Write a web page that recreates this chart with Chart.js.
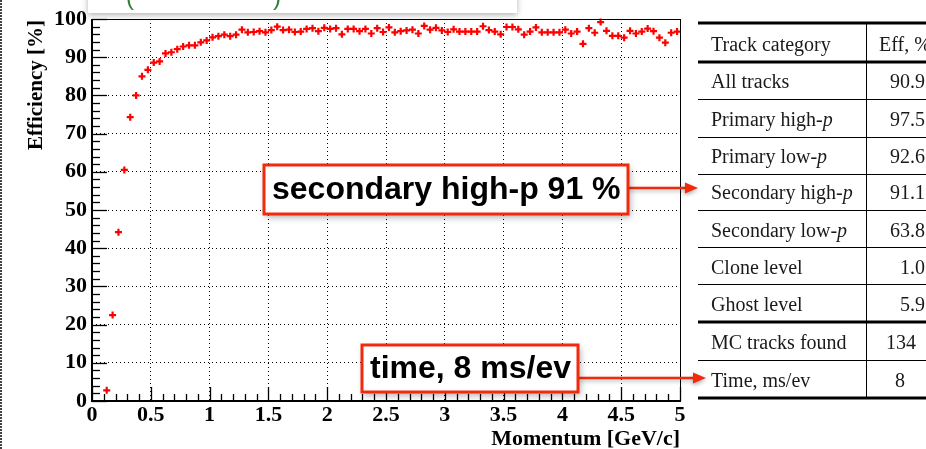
<!DOCTYPE html>
<html>
<head>
<meta charset="utf-8">
<script src="https://cdn.jsdelivr.net/npm/chart.js@4"></script>
<style>
  html, body { margin: 0; padding: 0; background: #fff; overflow: hidden; }
</style>
</head>
<body>
<canvas id="eff" width="926" height="449"></canvas>
<script>
// momentum bin centres [GeV/c]
const momentum = [
  0.125, 0.175, 0.225, 0.275, 0.325, 0.375, 0.425, 0.475, 0.525, 0.575,
  0.625, 0.675, 0.725, 0.775, 0.825, 0.875, 0.925, 0.975,
  1.025, 1.075, 1.125, 1.175, 1.225, 1.275, 1.325, 1.375, 1.425, 1.475,
  1.525, 1.575, 1.625, 1.675, 1.725, 1.775, 1.825, 1.875, 1.925, 1.975,
  2.025, 2.075, 2.125, 2.175, 2.225, 2.275, 2.325, 2.375, 2.425, 2.475,
  2.525, 2.575, 2.625, 2.675, 2.725, 2.775, 2.825, 2.875, 2.925, 2.975,
  3.025, 3.075, 3.125, 3.175, 3.225, 3.275, 3.325, 3.375, 3.425, 3.475,
  3.525, 3.575, 3.625, 3.675, 3.725, 3.775, 3.825, 3.875, 3.925, 3.975,
  4.025, 4.075, 4.125, 4.175, 4.225, 4.275, 4.325, 4.375, 4.425, 4.475,
  4.525, 4.575, 4.625, 4.675, 4.725, 4.775, 4.825, 4.875, 4.925, 4.975
];
// reconstruction efficiency [%]
const efficiency = [
  2.8, 22.5, 44.2, 60.5, 74.3, 80.0, 85.0, 86.7, 88.6, 88.9,
  91.0, 91.3, 92.1, 92.8, 93.1, 93.1, 93.9, 94.4,
  95.2, 95.5, 95.9, 95.5, 95.9, 97.2, 96.5, 96.6, 96.8, 96.5,
  97.1, 98.0, 97.1, 97.2, 96.6, 96.7, 97.4, 97.6, 96.8, 97.7,
  97.4, 97.6, 96.0, 97.4, 97.4, 96.8, 97.4, 96.2, 97.6, 96.6,
  97.8, 96.5, 96.8, 97.0, 97.2, 96.2, 98.2, 97.2, 97.7, 97.0,
  96.6, 97.3, 96.7, 96.7, 96.7, 96.7, 98.1, 97.1, 96.7, 96.0,
  97.9, 97.9, 97.3, 95.9, 96.7, 97.8, 96.5, 96.5, 96.5, 96.5,
  97.2, 96.2, 96.7, 93.5, 97.6, 96.4, 99.2, 96.9, 95.6, 95.6,
  95.1, 96.9, 96.2, 96.7, 97.5, 96.8, 95.1, 93.8, 96.4, 96.7
];

// summary table
const trackCategories = [
  'All tracks', 'Primary high-p', 'Primary low-p', 'Secondary high-p',
  'Secondary low-p', 'Clone level', 'Ghost level'
];
const trackEff = ['90.9', '97.5', '92.6', '91.1', '63.8', '1.0', '5.9'];
const mcTracksFound = '134';
const timePerEvent = '8';

const serifBold = '"Liberation Serif", "Times New Roman", serif';
const RED = '#f22a0c';

// ROOT-style frame with inner tick marks
const framePlugin = {
  id: 'frame',
  afterDatasetsDraw(chart) {
    const { ctx, chartArea: a, scales } = chart;
    ctx.save();
    ctx.strokeStyle = '#000';
    ctx.lineWidth = 1.3;
    for (let v = 0; v <= 100; v += 2) {
      const y = Math.round(scales.y.getPixelForValue(v)) + 0.5;
      const len = v % 10 === 0 ? 15 : 8;
      ctx.beginPath();
      ctx.moveTo(a.left, y);
      ctx.lineTo(a.left + len, y);
      ctx.stroke();
    }
    for (let i = 0; i <= 50; i++) {
      const x = Math.round(scales.x.getPixelForValue(i / 10)) + 0.5;
      const len = i % 5 === 0 ? 14 : 7;
      ctx.beginPath();
      ctx.moveTo(x, a.bottom);
      ctx.lineTo(x, a.bottom - len);
      ctx.stroke();
    }
    ctx.lineWidth = 1;
    ctx.strokeRect(a.left + 0.5, a.top + 0.5, a.right - a.left, a.bottom - a.top);
    ctx.lineWidth = 2;
    ctx.beginPath();
    ctx.moveTo(a.left, a.top);
    ctx.lineTo(a.left, a.bottom);
    ctx.lineTo(a.right, a.bottom);
    ctx.stroke();

    // axis titles
    ctx.fillStyle = '#000';
    ctx.font = 'bold 21px ' + serifBold;
    ctx.save();
    ctx.translate(37, a.top + 1);
    ctx.rotate(-Math.PI / 2);
    ctx.textAlign = 'right';
    ctx.textBaseline = 'middle';
    ctx.fillText('Efficiency [%]', 0, 0);
    ctx.restore();
    ctx.font = 'bold 22px ' + serifBold;
    ctx.textAlign = 'right';
    ctx.textBaseline = 'alphabetic';
    ctx.fillText('Momentum [GeV/c]', a.right, 445);
    ctx.restore();
  }
};

function arrow(ctx, x0, x1, y) {
  ctx.beginPath();
  ctx.moveTo(x0, y);
  ctx.lineTo(x1 - 9, y);
  ctx.stroke();
  ctx.beginPath();
  ctx.moveTo(x1, y);
  ctx.lineTo(x1 - 13, y - 5.5);
  ctx.lineTo(x1 - 13, y + 5.5);
  ctx.closePath();
  ctx.fill();
}

function labelBox(ctx, x, y, w, h, text) {
  ctx.save();
  ctx.shadowColor = 'rgba(0,0,0,0.35)';
  ctx.shadowBlur = 7;
  ctx.shadowOffsetX = 2;
  ctx.shadowOffsetY = 3;
  ctx.fillStyle = '#fff';
  ctx.fillRect(x, y, w, h);
  ctx.restore();
  ctx.strokeStyle = RED;
  ctx.lineWidth = 3;
  ctx.strokeRect(x, y, w, h);
  ctx.fillStyle = '#000';
  ctx.font = 'bold 32px "Liberation Sans", Arial, sans-serif';
  ctx.textAlign = 'left';
  ctx.textBaseline = 'middle';
  ctx.fillText(text, x + 8, y + h / 2 + 1);
}

function cellText(ctx, s, x, y) {
  // trailing "-p" set with an italic p
  const roman = '20px "Liberation Serif", serif';
  ctx.font = roman;
  if (s.endsWith('-p')) {
    const head = s.slice(0, -1);
    ctx.fillText(head, x, y);
    const w = ctx.measureText(head).width;
    ctx.font = 'italic ' + roman;
    ctx.fillText('p', x + w, y);
    ctx.font = roman;
  } else {
    ctx.fillText(s, x, y);
  }
}

const overlayPlugin = {
  id: 'overlay',
  afterDraw(chart) {
    const ctx = chart.ctx;
    ctx.save();

    // dotted page edge
    ctx.strokeStyle = '#444';
    ctx.lineWidth = 2;
    ctx.setLineDash([2, 1]);
    ctx.beginPath();
    ctx.moveTo(1, 0);
    ctx.lineTo(1, 449);
    ctx.stroke();
    ctx.setLineDash([]);

    // legend box running off the top
    ctx.save();
    ctx.shadowColor = 'rgba(0,0,0,0.3)';
    ctx.shadowBlur = 6;
    ctx.shadowOffsetY = 2;
    ctx.fillStyle = '#fff';
    ctx.fillRect(88, -10, 429, 23);
    ctx.restore();
    ctx.fillStyle = '#2f7d2f';
    ctx.font = '24px "Liberation Sans", Arial, sans-serif';
    ctx.textBaseline = 'alphabetic';
    ctx.textAlign = 'left';
    ctx.fillText('(', 126, 5);
    ctx.fillText(')', 273, 5);

    // arrows to the table
    ctx.save();
    ctx.shadowColor = 'rgba(0,0,0,0.3)';
    ctx.shadowBlur = 4;
    ctx.shadowOffsetY = 2;
    ctx.strokeStyle = RED;
    ctx.fillStyle = RED;
    ctx.lineWidth = 2.5;
    arrow(ctx, 628, 698, 188);
    arrow(ctx, 578, 706, 378);
    ctx.restore();

    labelBox(ctx, 264, 165, 364, 49, 'secondary high-p 91 %');
    labelBox(ctx, 362, 345, 216, 47, 'time, 8 ms/ev');

    // table
    const L = 698, R = 926, V = 866;
    const thick = [23, 62, 322, 398];
    const thin = [99, 137, 174, 210, 247, 284, 360];
    ctx.strokeStyle = '#000';
    ctx.lineWidth = 3;
    thick.forEach(y => { ctx.beginPath(); ctx.moveTo(L, y); ctx.lineTo(R, y); ctx.stroke(); });
    ctx.lineWidth = 1;
    thin.forEach(y => { ctx.beginPath(); ctx.moveTo(L, y + 0.5); ctx.lineTo(R, y + 0.5); ctx.stroke(); });
    ctx.beginPath();
    ctx.moveTo(V + 0.5, 23);
    ctx.lineTo(V + 0.5, 398);
    ctx.stroke();

    ctx.fillStyle = '#1a1a1a';
    ctx.textBaseline = 'middle';
    ctx.textAlign = 'left';
    cellText(ctx, 'Track category', 711, 46);
    cellText(ctx, 'Eff, %', 879, 46);
    const rowY = [83, 121, 158, 194, 232, 269, 306];
    trackCategories.forEach((c, i) => {
      ctx.textAlign = 'left';
      cellText(ctx, c, 711, rowY[i]);
      ctx.textAlign = 'right';
      ctx.fillText(trackEff[i], 925, rowY[i]);
    });
    ctx.textAlign = 'left';
    cellText(ctx, 'MC tracks found', 711, 344);
    cellText(ctx, 'Time, ms/ev', 711, 382);
    ctx.textAlign = 'center';
    ctx.fillText(mcTracksFound, 901, 344);
    ctx.fillText(timePerEvent, 900, 382);

    ctx.restore();
  }
};

const tickFont = { family: serifBold, weight: 'bold', size: 22 };

new Chart(document.getElementById('eff'), {
  type: 'scatter',
  data: {
    datasets: [{
      label: 'efficiency',
      data: momentum.map((p, i) => ({ x: p, y: efficiency[i] })),
      pointStyle: 'cross',
      pointRadius: 3.5,
      pointHoverRadius: 3.5,
      borderColor: '#ff0000',
      backgroundColor: '#ff0000',
      pointBorderWidth: 2.2,
      clip: false
    }]
  },
  options: {
    responsive: false,
    animation: false,
    devicePixelRatio: 1,
    layout: { padding: { left: 0, top: 19, right: 246, bottom: 0 } },
    plugins: { legend: { display: false }, tooltip: { enabled: false } },
    scales: {
      x: {
        type: 'linear',
        min: 0, max: 5,
        afterFit: s => { s.height = 48; },
        ticks: {
          stepSize: 0.5, color: '#000', font: tickFont, padding: 1,
          maxRotation: 0, autoSkip: false,
          callback: v => String(v)
        },
        grid: { color: '#000', lineWidth: 1, drawTicks: false },
        border: { display: false, dash: [1, 3] }
      },
      y: {
        min: 0, max: 100,
        afterFit: s => { s.width = 92; },
        ticks: { stepSize: 10, color: '#000', font: tickFont, padding: 5 },
        grid: { color: '#000', lineWidth: 1, drawTicks: false },
        border: { display: false, dash: [1, 3] }
      }
    }
  },
  plugins: [framePlugin, overlayPlugin]
});
</script>
</body>
</html>
